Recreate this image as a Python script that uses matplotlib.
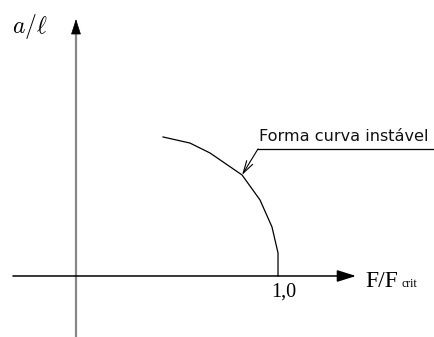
import matplotlib
matplotlib.use("Agg")
import matplotlib.pyplot as plt

# Unstable branch of the load / deflection curve (F/Fcrit vs a/l)
curve_x = [0.431, 0.564, 0.663, 0.822, 0.911, 0.970, 1.000, 1.000]
curve_y = [0.688, 0.658, 0.609, 0.500, 0.376, 0.243, 0.114, 0.000]

x_tick_value = 1.0
x_tick_label = "1,0"
curve_label = "Forma curva instável"
x_label_main = "F/F"
x_label_sub = "crit"
y_label = r"$a/\ell$"

plt.rcParams["mathtext.fontset"] = "cm"

fig = plt.figure(figsize=(4.34, 3.37), dpi=100)
ax = fig.add_axes([0, 0, 1, 1])
ax.set_xlim(-0.376, 1.772)
ax.set_ylim(-0.302, 1.366)
ax.set_aspect("equal")
ax.axis("off")

# horizontal axis with filled arrowhead
ax.annotate("", xy=(1.386, 0), xytext=(-0.312, 0),
            arrowprops=dict(arrowstyle="-|>,head_length=1.15,head_width=0.36",
                            color="black", lw=1.1, shrinkA=0, shrinkB=0))

# vertical axis: grey shaft, black arrowhead
ax.plot([0, 0], [-0.31, 1.21], color="#888888", lw=1.6, solid_capstyle="butt")
ax.annotate("", xy=(0, 1.272), xytext=(0, 1.200),
            arrowprops=dict(arrowstyle="-|>,head_length=1.0,head_width=0.32",
                            color="black", lw=0.5, shrinkA=0, shrinkB=0))

# the curve
ax.plot(curve_x, curve_y, color="black", lw=0.9)

# leader with open arrow pointing onto the curve
ax.plot([0.901, 1.767], [0.629, 0.629], color="black", lw=0.9)
ax.annotate("", xy=(curve_x[3], curve_y[3]), xytext=(0.901, 0.629),
            arrowprops=dict(arrowstyle="->,head_length=0.9,head_width=0.25",
                            color="black", lw=0.8, shrinkA=0, shrinkB=0))
ax.text(0.905, 0.668, curve_label, fontsize=11.6, family="DejaVu Sans",
        fontweight="normal", va="baseline", ha="left", color="#111111")

# tick label under x = 1
ax.text(x_tick_value + 0.03, -0.104, x_tick_label, fontsize=14.5,
        family="Liberation Serif", ha="center", va="baseline")

# axis labels
ax.text(1.431, -0.054, x_label_main, fontsize=17, family="Liberation Serif",
        ha="left", va="baseline")
ax.text(1.609, -0.054, x_label_sub, fontsize=8.5, family="Liberation Serif",
        ha="left", va="baseline")
ax.text(-0.317, 1.203, y_label, fontsize=17, ha="left", va="baseline")

fig.savefig("out.png", dpi=100)
